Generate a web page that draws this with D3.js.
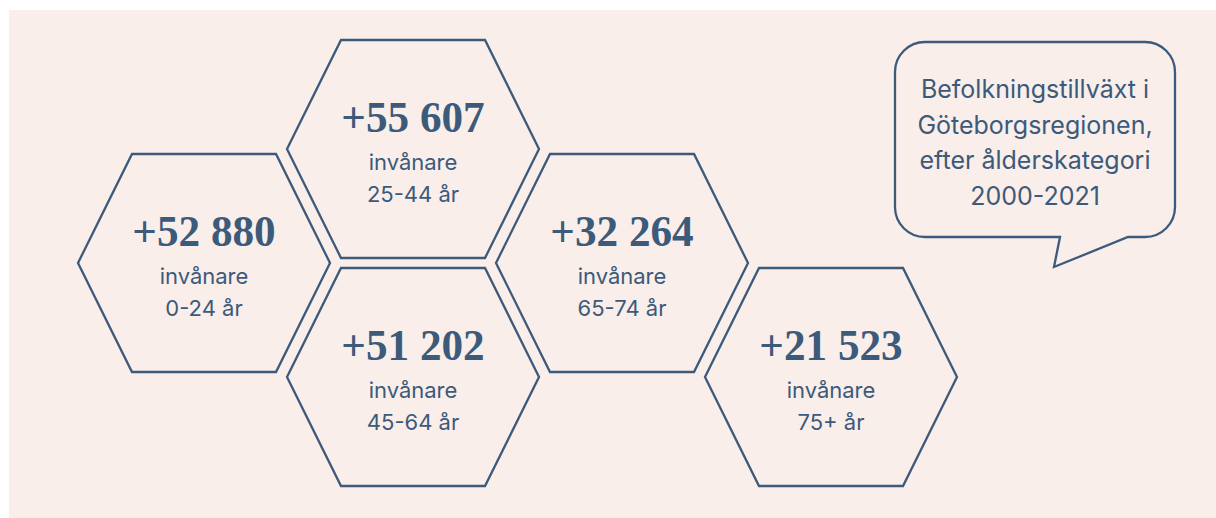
<!DOCTYPE html>
<html>
<head>
<meta charset="utf-8">
<script src="https://cdn.jsdelivr.net/npm/d3@7"></script>
<style>
  html, body { margin: 0; padding: 0; background: #ffffff; }
  svg { display: block; }
</style>
</head>
<body>
<div id="chart"></div>
<script>
// Befolkningstillväxt per ålderskategori, 2000-2021
const ageGroups = ["0-24 år", "25-44 år", "45-64 år", "65-74 år", "75+ år"];
const growth = [52880, 55607, 51202, 32264, 21523];
const unitLabel = "invånare";
const titleLines = ["Befolkningstillväxt i", "Göteborgsregionen,", "efter ålderskategori", "2000-2021"];

// honeycomb slots (column, row offset) for each age group
const hexCol = [0, 1, 1, 2, 3];
const hexRow = [0, -1, 1, 0, 1];

const width = 1216;
const height = 518;
const ink = "#3c5a7a";
const bg = "#f9eeea";

const sv = d3.formatLocale({ decimal: ",", thousands: "\u00a0", grouping: [3], currency: ["", " kr"] });
const fmt = sv.format("+,");

const x = d3.scaleLinear().domain([0, 3]).range([204, 831]);
const y = d3.scaleLinear().domain([-1, 1]).range([149, 377]);

const svg = d3.create("svg").attr("width", width).attr("height", height);

svg.append("rect")
  .attr("x", 9).attr("y", 10)
  .attr("width", width - 9).attr("height", height - 10)
  .attr("fill", bg);

// hexagon outline, flat top, slightly wider top edge than a regular one
const hw = 126, hh = 109, tw = 72;
const hexPath = d3.line()([[-hw, 0], [-tw, -hh], [tw, -hh], [hw, 0], [tw, hh], [-tw, hh]]) + "Z";

const cells = svg.selectAll("g.hex")
  .data(growth.map((v, i) => ({ v, age: ageGroups[i], c: hexCol[i], r: hexRow[i] })))
  .join("g")
  .attr("class", "hex")
  .attr("transform", (d) => `translate(${x(d.c)},${y(d.r)})`);

cells.append("path")
  .attr("d", hexPath)
  .attr("fill", "none")
  .attr("stroke", ink)
  .attr("stroke-width", 2.3)
  .attr("stroke-linejoin", "miter");

cells.append("text")
  .attr("transform", "translate(0,-17) scale(0.96,1)")
  .attr("text-anchor", "middle")
  .attr("font-family", "'Liberation Serif', 'DejaVu Serif', serif")
  .attr("font-weight", "bold")
  .attr("font-size", 45)
  .attr("fill", ink)
  .text((d) => fmt(d.v));

cells.append("text")
  .attr("y", 21)
  .attr("text-anchor", "middle")
  .attr("font-family", "Inter, 'Noto Sans', sans-serif")
  .attr("font-size", 22)
  .attr("fill", ink)
  .text(unitLabel);

cells.append("text")
  .attr("y", 53)
  .attr("text-anchor", "middle")
  .attr("font-family", "Inter, 'Noto Sans', sans-serif")
  .attr("font-size", 22)
  .attr("fill", ink)
  .text((d) => d.age);

// speech bubble with title
const bx0 = 895, bx1 = 1175, by0 = 42, by1 = 237, br = 30;
const bubble = d3.path();
bubble.moveTo(bx0 + br, by0);
bubble.lineTo(bx1 - br, by0);
bubble.arcTo(bx1, by0, bx1, by0 + br, br);
bubble.lineTo(bx1, by1 - br);
bubble.arcTo(bx1, by1, bx1 - br, by1, br);
bubble.lineTo(1128, by1);
bubble.lineTo(1054, 267);
bubble.lineTo(1060, by1);
bubble.lineTo(bx0 + br, by1);
bubble.arcTo(bx0, by1, bx0, by1 - br, br);
bubble.lineTo(bx0, by0 + br);
bubble.arcTo(bx0, by0, bx0 + br, by0, br);
bubble.closePath();

svg.append("path")
  .attr("d", bubble.toString())
  .attr("fill", "none")
  .attr("stroke", ink)
  .attr("stroke-width", 2.3)
  .attr("stroke-linejoin", "miter");

svg.append("g")
  .selectAll("text")
  .data(titleLines)
  .join("text")
  .attr("x", (bx0 + bx1) / 2)
  .attr("y", (d, i) => 98 + i * 35.7)
  .attr("text-anchor", "middle")
  .attr("font-family", "Inter, 'Noto Sans', sans-serif")
  .attr("font-size", 25)
  .attr("fill", ink)
  .text((d) => d);

document.getElementById("chart").append(svg.node());
</script>
</body>
</html>
